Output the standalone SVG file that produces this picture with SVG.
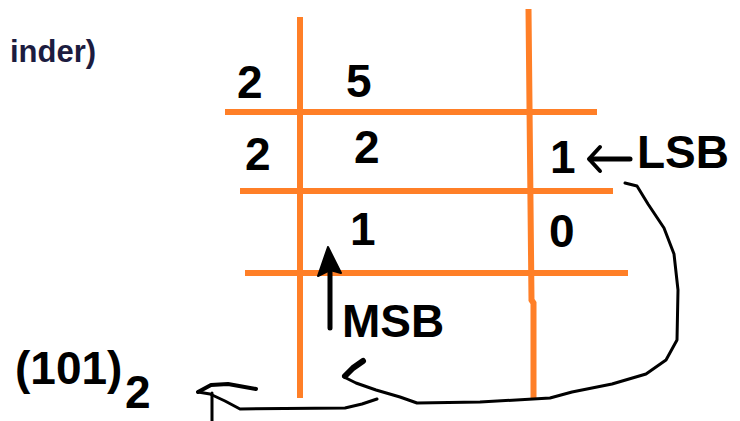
<svg xmlns="http://www.w3.org/2000/svg" width="740" height="421" viewBox="0 0 740 421">
  <style>
    .grid { stroke: #FF7F27; stroke-width: 6; fill: none; }
    .num { font-family: "Liberation Sans", Arial, sans-serif; font-weight: bold; font-size: 46px; fill: #000; }
    .lbl { font-family: "Liberation Sans", Arial, sans-serif; font-weight: bold; font-size: 46px; fill: #000; }
    .head { font-family: "Liberation Sans", Arial, sans-serif; font-weight: bold; font-size: 31px; fill: #1c1c40; }
    .ink { stroke: #000; fill: none; stroke-linecap: round; stroke-linejoin: round; }
  </style>
  <rect width="740" height="421" fill="#fff"/>

  <g id="header">
    <text class="head" x="10" y="62">inder)</text>
  </g>

  <g id="grid">
    <line class="grid" x1="300" y1="17" x2="300" y2="398"/>
    <polyline class="grid" points="528.5,9 531.5,300 533.5,303 533.5,400"/>
    <line class="grid" x1="225" y1="112" x2="597" y2="112"/>
    <line class="grid" x1="240" y1="191" x2="613" y2="191"/>
    <line class="grid" x1="245" y1="273" x2="628" y2="273"/>
  </g>

  <g id="row1">
    <text class="num" x="237" y="98">2</text>
    <text class="num" x="346" y="97">5</text>
  </g>
  <g id="row2">
    <text class="num" x="245" y="170">2</text>
    <text class="num" x="354" y="163">2</text>
    <text class="num" x="550" y="173">1</text>
  </g>
  <g id="row3">
    <text class="num" x="350" y="245">1</text>
    <text class="num" x="549" y="247">0</text>
  </g>

  <g id="lsb">
    <text class="lbl" x="637" y="168">LSB</text>
  </g>
  <g id="msb">
    <text class="lbl" x="342" y="337">MSB</text>
  </g>
  <g id="result">
    <text class="num" x="15" y="384">(101)</text>
    <text class="num" x="125" y="408" font-size="44">2</text>
  </g>

  <g id="connectors">
    <!-- LSB arrow -->
    <path class="ink" stroke-width="5" d="M630,159 L590,159"/>
    <path class="ink" stroke-width="4" d="M600,147 L589,159 L600,171"/>
    <!-- MSB arrow -->
    <path class="ink" stroke-width="5" d="M330,328 L330,258"/>
    <path d="M328,247 L318,276 L330,270 L341,273 Z" fill="#000" stroke="#000" stroke-width="2" stroke-linejoin="round"/>
    <!-- curve from LSB around to MSB -->
    <path class="ink" stroke-width="3" d="M625,183 L637,186 L648,204 L664,228 L674,254 L678,290 L677,340 L666,360 L646,374 L612,384 L572,392 L550,398 L480,402 L417,403 L400,397 L376,390 L356,383 L344,377"/>
    <path class="ink" stroke-width="6" d="M345,376 L353,368 L363,361"/>
    <!-- arrow from bottom to result -->
    <path class="ink" stroke-width="3" d="M377,399 L362,404 L345,408 L240,409 L225,401 L210,394 L198,392"/>
    <path class="ink" stroke-width="4" d="M198,392 L211,385 L228,384 L256,389"/>
    <path class="ink" stroke-width="3" d="M212,393 L212,421"/>
  </g>
</svg>
